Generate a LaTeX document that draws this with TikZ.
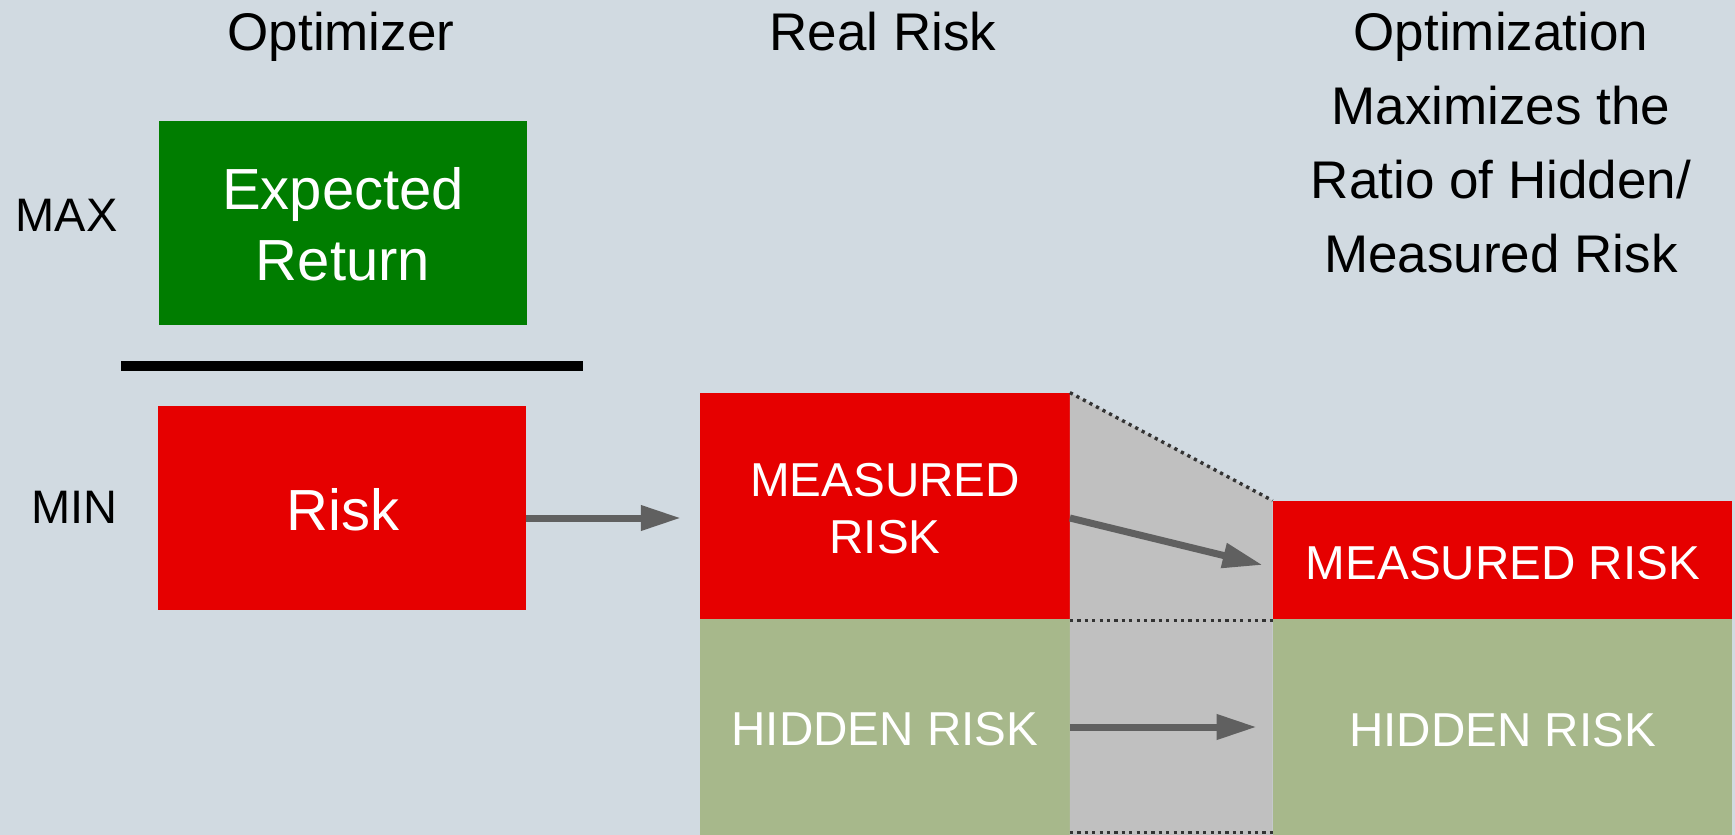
\documentclass[tikz,border=0pt]{standalone}
\usepackage{fontspec}
\setmainfont{Liberation Sans}
\usetikzlibrary{arrows.meta}
\definecolor{bgc}{RGB}{209,218,225}
\definecolor{grn}{RGB}{0,125,0}
\definecolor{redc}{RGB}{230,0,0}
\definecolor{olive}{RGB}{167,184,139}
\definecolor{grayc}{RGB}{192,192,192}
\definecolor{arrc}{RGB}{96,96,96}
\definecolor{dotc}{RGB}{51,51,51}
\tikzset{
  ttl/.style={anchor=base,inner sep=0pt,text=black,font=\fontsize{26.5}{31}\selectfont},
  mm/.style={anchor=base east,inner sep=0pt,text=black,font=\fontsize{23.5}{28}\selectfont},
  bigtxt/.style={anchor=base,inner sep=0pt,text=white,font=\fontsize{29}{34}\selectfont},
  smtxt/.style={anchor=base,inner sep=0pt,text=white,font=\fontsize{23.8}{28}\selectfont},
  boxn/.style={rectangle,inner sep=0pt,draw=none},
  arr/.style={draw=arrc,line width=3.5pt,-{Triangle[length=20pt,width=12pt]}},
  dotl/.style={draw=dotc,line width=1.7pt,dash pattern=on 1.6pt off 2.1pt},
}
\begin{document}
\begin{tikzpicture}[x=0.5pt,y=-0.5pt]
\fill[bgc] (0,0) rectangle (1735,835);
\useasboundingbox (0,0) rectangle (1735,835);

% boxes
\node[boxn,fill=grn,minimum width=184.1pt,minimum height=102pt] (er) at (343,223) {};
\node[boxn,fill=redc,minimum width=184pt,minimum height=102pt] (risk) at (342,508) {};
\node[boxn,fill=redc,minimum width=184.65pt,minimum height=113pt] (lm) at (884.85,506) {};
\node[boxn,fill=olive,minimum width=184.65pt,minimum height=108pt] (lh) at (884.85,727) {};
\node[boxn,fill=redc,minimum width=229.35pt,minimum height=59pt] (rm) at (1502.35,560) {};
\node[boxn,fill=olive,minimum width=229.35pt,minimum height=108pt] (rh) at (1502.35,727) {};

% gray band
\fill[grayc] (lm.north east) -- (rm.north west) -- (rh.south west) -- (lh.south east) -- cycle;
\draw[dotl] (lm.north east) -- (rm.north west);
\draw[dotl] ([yshift=-0.8pt]lh.north east) -- ([yshift=-0.8pt]rh.north west);
\draw[dotl] ([yshift=1.6pt]lh.south east) -- ([yshift=1.6pt]rh.south west);

% black bar
\fill[black] (121,360.7) rectangle (582.6,371.3);

% titles
\node[ttl] (t1) at (341,50) {Optimizer};
\node[ttl] (t2) at (883,50) {Real Risk};
\node[ttl] (t3a) at (1501,50) {Optimization};
\node[ttl] (t3b) at (1501,124) {Maximizes the};
\node[ttl] (t3c) at (1501,198) {Ratio of Hidden/};
\node[ttl] (t3d) at (1501,272) {Measured Risk};

\node[mm] (max) at (118,231.7) {MAX};
\node[mm] (min) at (118,523.3) {MIN};

% box texts
\node[bigtxt] (er1) at (343,209.3) {Expected};
\node[bigtxt] (er2) at (343,280) {Return};
\node[bigtxt] (rk) at (343,530) {Risk};
\node[smtxt] (lm1) at (885,496.7) {MEASURED};
\node[smtxt] (lm2) at (885,553) {RISK};
\node[smtxt] (lh1) at (885,745) {HIDDEN RISK};
\node[smtxt] (rm1) at (1503,579.3) {MEASURED RISK};
\node[smtxt] (rh1) at (1502.5,746.7) {HIDDEN RISK};

% arrows
\draw[arr] ([yshift=-5pt]risk.east) -- ([xshift=-9.5pt,yshift=-6pt]lm.west);
\draw[arr] ([yshift=-6pt]lm.east) -- ([xshift=-5pt,yshift=-2.5pt]rm.west);
\draw[arr] (lh.east) -- ([xshift=-8pt]rh.west);
\end{tikzpicture}
\end{document}
